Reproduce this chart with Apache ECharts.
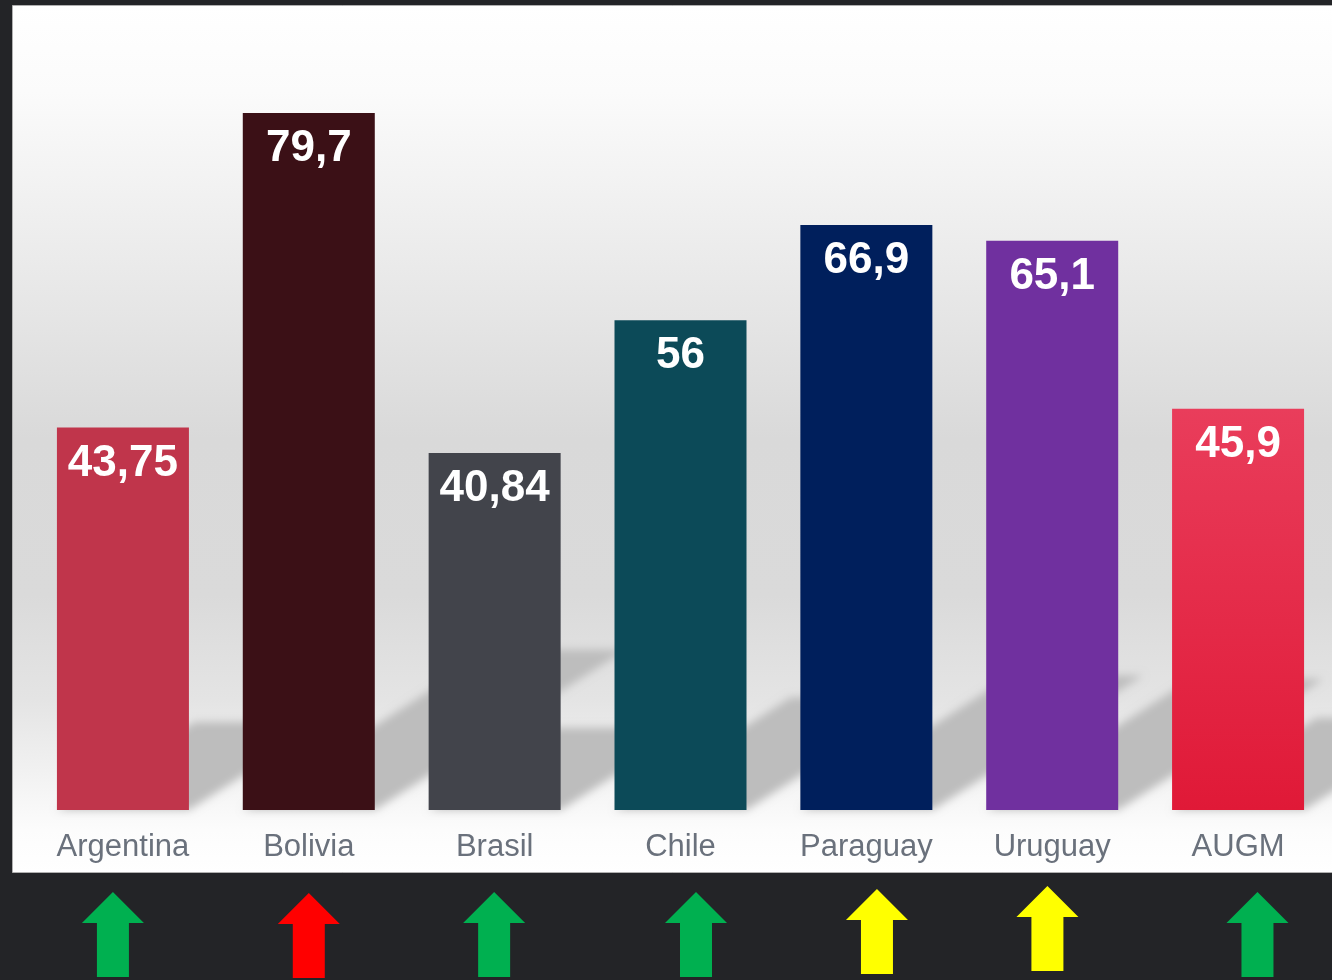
<!DOCTYPE html>
<html><head><meta charset="utf-8">
<script src="https://cdn.jsdelivr.net/npm/echarts@6/dist/echarts.min.js"></script>
<style>html,body{margin:0;padding:0;background:#232427;}#c{width:1332px;height:980px;}</style>
</head><body><div id="c"></div>
<script>
// ---- data ----
const categories = ['Argentina', 'Bolivia', 'Brasil', 'Chile', 'Paraguay', 'Uruguay', 'AUGM'];
const values = [43.75, 79.7, 40.84, 56, 66.9, 65.1, 45.9];
const barColors = ['#c0354b', '#3b1016', '#42444b', '#0c4a58', '#001f5c', '#70309f', 'gradient'];
const trendColors = ['#00b050', '#ff0000', '#00b050', '#00b050', '#ffff00', '#ffff00', '#00b050'];

// ---- layout constants (not data) ----
const arrowShiftX = [-10, 0, -0.5, 15.5, 10.6, -4.8, 19.4];
const arrowTopGap = [82, 83, 82, 82, 79, 76, 82];
const BAR_W = 132;

const chart = echarts.init(document.getElementById('c'), null, {renderer: 'canvas'});

const augmGradient = {type: 'linear', x: 0, y: 0, x2: 0, y2: 1, colorStops: [
  {offset: 0, color: '#e93d5b'}, {offset: 1, color: '#e01937'}]};

const panelGradient = {type: 'linear', x: 0, y: 0, x2: 0, y2: 1, colorStops: [
  {offset: 0, color: '#ffffff'},
  {offset: 0.1, color: '#fbfbfb'},
  {offset: 0.35, color: '#e6e6e6'},
  {offset: 0.5, color: '#d9d9d9'},
  {offset: 0.68, color: '#dadada'},
  {offset: 0.8, color: '#e4e4e4'},
  {offset: 0.9, color: '#f4f4f4'},
  {offset: 0.95, color: '#fcfcfc'},
  {offset: 1, color: '#ffffff'}]};

const fmt = v => String(v).replace('.', ',');
const OFF = 4000;

chart.setOption({
  backgroundColor: '#232427',
  animation: false,
  graphic: [{
    type: 'rect', z: 0, silent: true,
    shape: {x: 12.5, y: 5.5, width: 1330, height: 867},
    style: {fill: panelGradient, stroke: '#b0b0b0', lineWidth: 1}
  }],
  grid: {left: 30, right: 1, top: 23, bottom: 170, containLabel: false},
  xAxis: {
    type: 'category', data: categories,
    axisLine: {show: false}, axisTick: {show: false},
    axisLabel: {color: '#6a717c', fontSize: 31, fontFamily: 'Liberation Sans', margin: 22}
  },
  yAxis: {type: 'value', min: 0, max: 90, show: false, splitLine: {show: false}},
  series: [
    {
      type: 'custom', z: 1, silent: true,
      data: values.map((v, i) => [i, v]),
      renderItem: function (params, api) {
        const i = api.value(0), v = api.value(1);
        const base = api.coord([i, 0]);
        const top = api.coord([i, v]);
        const h = base[1] - top[1];
        const x0 = base[0] - BAR_W / 2, x1 = base[0] + BAR_W / 2, y0 = base[1];
        const dx = 0.36 * h, dy = 0.23 * h;
        return {
          type: 'polygon',
          shape: {points: [[x0 - OFF, y0], [x1 - OFF, y0], [x1 + dx - OFF, y0 - dy], [x0 + dx - OFF, y0 - dy]]},
          style: {fill: '#bdbdbd', shadowBlur: 9, shadowColor: '#bdbdbd', shadowOffsetX: OFF, shadowOffsetY: 0}
        };
      }
    },
    {
      type: 'bar', z: 3, barWidth: BAR_W,
      data: values.map((v, i) => ({value: v, itemStyle: {color: barColors[i] === 'gradient' ? augmGradient : barColors[i]}})),
      label: {
        show: true, position: 'insideTop', distance: 14,
        color: '#ffffff', fontSize: 44, fontWeight: 'bold', fontFamily: 'Liberation Sans',
        formatter: p => fmt(p.value)
      }
    },
    {
      type: 'custom', z: 3, silent: true,
      data: categories.map((c, i) => [i, 0]),
      renderItem: function (params, api) {
        const i = api.value(0);
        const base = api.coord([i, 0]);
        const cx = base[0] + arrowShiftX[i];
        const ty = base[1] + arrowTopGap[i];
        return {
          type: 'polygon',
          shape: {points: [[cx, ty], [cx + 31, ty + 31], [cx + 16, ty + 31], [cx + 16, ty + 85],
                           [cx - 16, ty + 85], [cx - 16, ty + 31], [cx - 31, ty + 31]]},
          style: {fill: trendColors[i]}
        };
      }
    }
  ]
});
</script></body></html>
